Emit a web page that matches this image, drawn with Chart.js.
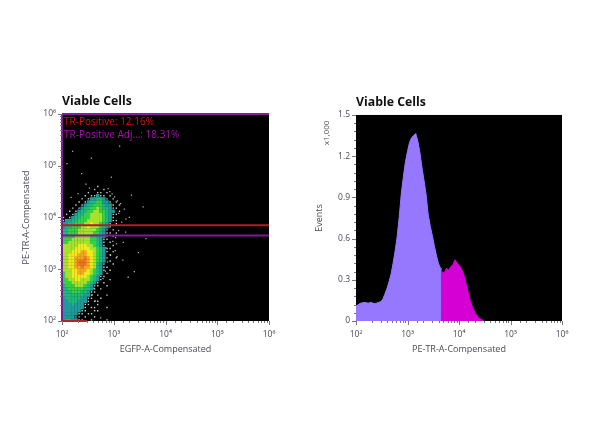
<!DOCTYPE html>
<html>
<head>
<meta charset="utf-8">
<style>
    html, body { margin: 0; background: #fff; }
    canvas { position: absolute; top: 0; filter: blur(0.4px); }
</style>
<script src="https://cdn.jsdelivr.net/npm/chart.js@4"></script>
</head>
<body>
<canvas id="dotPlot" width="300" height="447" style="left:0"></canvas>
<canvas id="histPlot" width="300" height="447" style="left:300px"></canvas>
<script>
// Cores dos níveis de densidade (0 = vazio)
const densityColors = [null, '#c4cccc', '#1f9a9a', '#1fb87a', '#36d044', '#a6e22c', '#f2ea1e', '#f8a81e', '#f27a1e'];

// Grelha de densidade: x e y dos centros das células
const densityX = [107, 123, 141, 162, 186, 214, 245, 282, 324, 372, 427, 490, 562, 646, 741, 851, 977, 1122, 1288, 1479];
const densityY = [39811, 34674, 30200, 26303, 22909, 19953, 17378, 15136, 13183, 11482, 10000, 8710, 7586, 6607, 5754, 5012,
    4365, 3802, 3311, 2884, 2512, 2188, 1905, 1660, 1445, 1259, 1096, 955, 832, 724, 631, 550, 479, 417, 363, 316, 275, 240,
    209, 182, 158, 138, 120, 105];
const densityRows = [
    '00000000000100000000',
    '00000000001001000000',
    '00000000100110100000',
    '00000001011211010000',
    '00000010122332101000',
    '00000101233442210100',
    '00001012334443221010',
    '00010123344543321100',
    '00101233445544322010',
    '01012334455554321100',
    '10123344455554321000',
    '12233444555554321100',
    '22334445565543210100',
    '23344455655543210000',
    '33444555555432101000',
    '33444555554432110100',
    '44445555544332101000',
    '44455555544321100000',
    '44555555544321010000',
    '55555666554321001000',
    '55556666655432110000',
    '55566677665432101000',
    '55666777665432010000',
    '55667778765432100100',
    '55667888765432010000',
    '55667888765321001000',
    '55667787765321100000',
    '55566777654321010000',
    '45566776654320100000',
    '45566666543211000000',
    '44556655543210010000',
    '44455555432101000000',
    '34445554321100100000',
    '33444443321010000000',
    '33344433211000000000',
    '33333332210100100000',
    '23333322110010000000',
    '22333222101100000000',
    '22232221100100000000',
    '22222221011000100000',
    '22222211001100000000',
    '22222110110000000000',
    '22221101001000000000',
    '23322110010000100000'
];

// Eventos isolados fora da nuvem principal
const strayX = [1300, 160, 370, 5800, 3700, 2000, 1130, 3000, 1700, 125, 240, 1500, 2500, 900, 1900, 4200, 1250, 2200,
    780, 840, 930, 1040, 1180, 1350, 1600, 700, 640, 590, 520, 470, 410, 385, 1090, 1240, 1420, 960, 870, 760, 690, 620,
    1070, 1530, 290, 340, 205, 150, 440, 1160, 1720, 560];
const strayY = [240000, 190000, 140000, 4500, 16000, 10000, 3100, 2100, 5200, 110000, 70000, 1500, 900, 60000, 700, 3900, 12000, 27000,
    36000, 31500, 28500, 25000, 21000, 18500, 14500, 2600, 2050, 1580, 760, 600, 430, 320, 4100, 5600, 8100, 3450, 1850, 1380, 920, 660,
    2300, 3300, 44000, 37000, 29000, 24500, 245, 1750, 9300, 115];

// Gates
const gateRedY = 7080;
const gatePurpleY = 4470;
const gateLeftRedEndX = 300;

// Histograma PE-TR-A
const violetX = [100, 110, 120, 132, 145, 158, 174, 191, 209, 229, 251, 275, 302, 331, 363, 398, 437, 479, 525, 575, 631, 692,
    759, 832, 912, 1000, 1096, 1202, 1318, 1445, 1585, 1738, 1905, 2089, 2291, 2512, 2754, 3020, 3311, 3631, 3981, 4365, 4466];
const violetValues = [110, 118, 128, 132, 136, 133, 130, 136, 131, 127, 130, 136, 140, 158, 195, 235, 285, 340, 420, 510, 615, 760,
    930, 1050, 1160, 1235, 1300, 1335, 1350, 1365, 1310, 1230, 1120, 1025, 925, 780, 695, 625, 550, 480, 420, 385, 375];
const magentaX = [4466, 4786, 5248, 5754, 6310, 6918, 7586, 8318, 9120, 10000, 10965, 12023, 13183, 14454, 15849, 17378, 19055,
    20893, 22909, 25119, 27542, 30200];
const magentaValues = [375, 350, 355, 385, 370, 395, 410, 445, 425, 405, 385, 355, 300, 240, 175, 125, 85, 55, 35, 20, 10, 5];

const logTickLabels = { 100: '10²', 1000: '10³', 10000: '10⁴', 100000: '10⁵', 1000000: '10⁶' };
const histTickLabels = { 0: '0', 300: '0.3', 600: '0.6', 900: '0.9', 1200: '1.2', 1500: '1.5' };

const fontName = "'Open Sans', sans-serif";
const labelColor = '#4a4a55';

// Fundo preto da área do gráfico
const plotBackground = {
    id: 'plotBackground',
    beforeDatasetsDraw(chart) {
        const a = chart.chartArea;
        chart.ctx.fillStyle = '#000';
        chart.ctx.fillRect(a.left, a.top, a.width, a.height);
    }
};

// Marcas dos eixos, maiores nas décadas
const axisMarks = {
    id: 'axisMarks',
    afterDraw(chart) {
        const ctx = chart.ctx;
        const a = chart.chartArea;
        ctx.save();
        ctx.strokeStyle = '#777';
        ctx.lineWidth = 1;
        ctx.beginPath();
        chart.scales.x.ticks.forEach(t => {
            const px = Math.round(chart.scales.x.getPixelForValue(t.value)) + 0.5;
            const len = logTickLabels[t.value] ? 4 : 2;
            ctx.moveTo(px, a.bottom);
            ctx.lineTo(px, a.bottom + len);
        });
        chart.scales.y.ticks.forEach(t => {
            const py = Math.round(chart.scales.y.getPixelForValue(t.value)) + 0.5;
            const big = chart.scales.y.type === 'linear' ? histTickLabels[t.value] : logTickLabels[t.value];
            const len = big ? 4 : 2;
            ctx.moveTo(a.left, py);
            ctx.lineTo(a.left - len, py);
        });
        ctx.stroke();
        ctx.restore();
    }
};

// Textos dos gates no gráfico da esquerda
const gateLabels = {
    id: 'gateLabels',
    afterDraw(chart) {
        const ctx = chart.ctx;
        ctx.save();
        ctx.font = '10px ' + fontName;
        ctx.textBaseline = 'middle';
        ctx.fillStyle = '#d81414';
        ctx.fillText('TR-Positive: 12.16%', 64, 122);
        ctx.fillStyle = '#a414a8';
        ctx.fillText('TR-Positive Adj...: 18.31%', 64, 135);
        ctx.restore();
    }
};

// Multiplicador do eixo Y do histograma
const multiplierLabel = {
    id: 'multiplierLabel',
    afterDraw(chart) {
        const ctx = chart.ctx;
        ctx.save();
        ctx.translate(27, 133);
        ctx.rotate(-Math.PI / 2);
        ctx.font = '8px ' + fontName;
        ctx.fillStyle = labelColor;
        ctx.textAlign = 'center';
        ctx.textBaseline = 'middle';
        ctx.fillText('x1,000', 0, 0);
        ctx.restore();
    }
};

function logAxis(titleText, axisSize, horizontal) {
    return {
        type: 'logarithmic',
        min: 100,
        max: 1000000,
        grid: { display: false, drawTicks: false },
        border: { display: false },
        title: { display: true, text: titleText, color: labelColor, font: { family: fontName, size: 9 }, padding: 0 },
        ticks: {
            autoSkip: false,
            maxRotation: 0,
            padding: horizontal ? 8 : 6,
            color: labelColor,
            font: { family: fontName, size: 8.5 },
            callback: v => logTickLabels[v] || ''
        },
        afterFit(scale) {
            if (horizontal) scale.height = axisSize; else scale.width = axisSize;
        }
    };
}

function chartTitle() {
    return {
        display: true,
        text: 'Viable Cells',
        align: 'start',
        fullSize: false,
        color: '#111',
        font: { family: fontName, size: 12.3, weight: 'bold' },
        padding: { top: 0, bottom: 5 }
    };
}

// --- GRÁFICO DA ESQUERDA: densidade ---
const dotDatasets = [];
densityColors.forEach((color, level) => {
    if (!color) return;
    const points = [];
    densityRows.forEach((row, r) => {
        row.split('').forEach((c, col) => {
            if (Number(c) === level) points.push({ x: densityX[col], y: densityY[r] });
        });
    });
    dotDatasets.push({
        data: points,
        backgroundColor: color,
        pointStyle: 'rect',
        pointRadius: level === 1 ? 1 : 2.4,
        pointBorderWidth: 0,
        order: 2
    });
});
dotDatasets.push({
    data: strayX.map((x, i) => ({ x: x, y: strayY[i] })),
    backgroundColor: '#a8b2b2',
    pointStyle: 'rect',
    pointRadius: 0.9,
    pointBorderWidth: 0,
    order: 2
});

// Linhas dos gates por cima da nuvem (order menor desenha por cima)
function gateLine(x1, y1, x2, y2, color) {
    return {
        data: [{ x: x1, y: y1 }, { x: x2, y: y2 }],
        showLine: true,
        borderColor: color,
        borderWidth: 2,
        pointRadius: 0,
        clip: 3,
        order: 1
    };
}
dotDatasets.push(gateLine(100, gateRedY, 1000000, gateRedY, '#b01c2c'));
dotDatasets.push(gateLine(100, gatePurpleY, 1000000, gatePurpleY, '#7d1a94'));
dotDatasets.push(gateLine(100, 100, gateLeftRedEndX, 100, '#c01c2c'));
dotDatasets.push(gateLine(100, 1000000, 1000000, 1000000, '#8a1a9a'));
dotDatasets.push(gateLine(100, 100, 100, 1000000, '#7d1a94'));

new Chart(document.getElementById('dotPlot'), {
    type: 'scatter',
    data: { datasets: dotDatasets },
    options: {
        responsive: false,
        animation: false,
        layout: { padding: { left: 21, right: 31, top: 94.2, bottom: 92 } },
        plugins: { legend: { display: false }, tooltip: { enabled: false }, title: chartTitle() },
        scales: {
            x: logAxis('EGFP-A-Compensated', 34, true),
            y: logAxis('PE-TR-A-Compensated', 41, false)
        }
    },
    plugins: [plotBackground, axisMarks, gateLabels]
});

// --- GRÁFICO DA DIREITA: histograma ---
function histDataset(xs, ys, color) {
    return {
        data: xs.map((x, i) => ({ x: x, y: ys[i] })),
        showLine: true,
        fill: 'origin',
        backgroundColor: color,
        borderColor: color,
        borderWidth: 1,
        pointRadius: 0
    };
}

new Chart(document.getElementById('histPlot'), {
    type: 'scatter',
    data: {
        datasets: [
            histDataset(violetX, violetValues, '#9678ff'),
            histDataset(magentaX, magentaValues, '#d400d4')
        ]
    },
    options: {
        responsive: false,
        animation: false,
        layout: { padding: { left: 14, right: 38, top: 95.2, bottom: 92 } },
        plugins: { legend: { display: false }, tooltip: { enabled: false }, title: chartTitle() },
        scales: {
            x: logAxis('PE-TR-A-Compensated', 34, true),
            y: {
                type: 'linear',
                min: 0,
                max: 1500,
                grid: { display: false, drawTicks: false },
                border: { display: false },
                title: { display: true, text: 'Events', color: labelColor, font: { family: fontName, size: 9 }, padding: 0 },
                ticks: {
                    stepSize: 60,
                    autoSkip: false,
                    padding: 6,
                    color: labelColor,
                    font: { family: fontName, size: 8.5 },
                    callback: v => histTickLabels[v] || ''
                },
                afterFit(scale) { scale.width = 42; }
            }
        }
    },
    plugins: [plotBackground, axisMarks, multiplierLabel]
});
</script>
</body>
</html>
